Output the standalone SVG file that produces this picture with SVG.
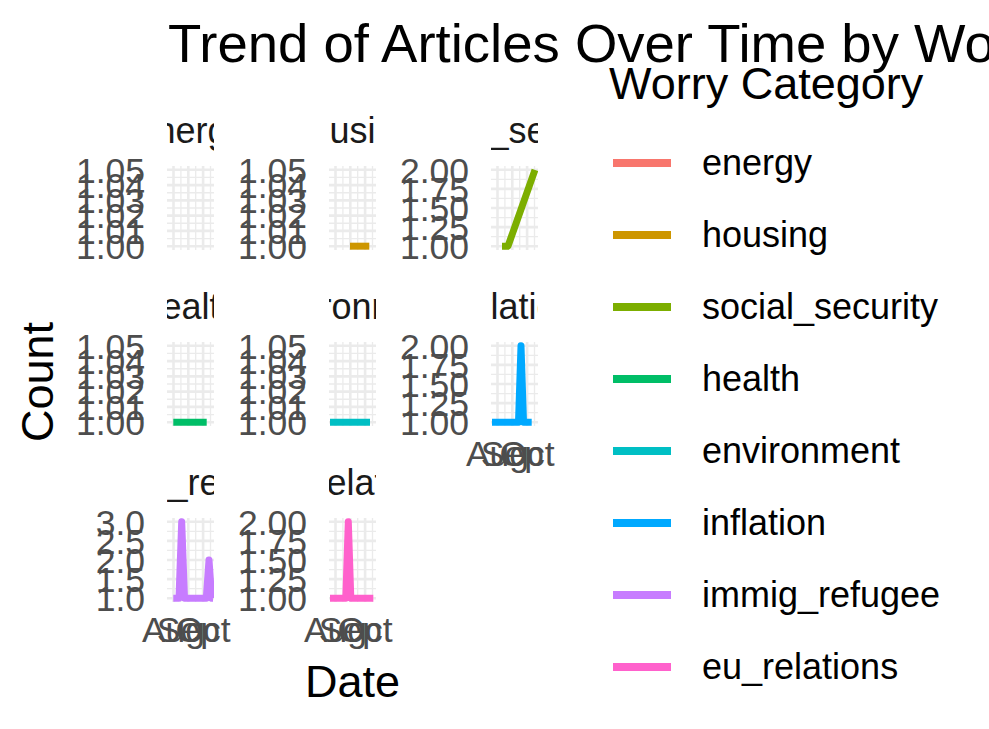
<svg xmlns="http://www.w3.org/2000/svg" xmlns:xlink="http://www.w3.org/1999/xlink" width="989" height="729" viewBox="0 0 989 729">
<style>
text{font-family:"Liberation Sans",Arial,sans-serif}
.title{font-size:54.5px;fill:#000}
.atitle{font-size:45px;fill:#000}
.ltitle{font-size:45px;fill:#000}
.ltext{font-size:36px;fill:#000}
.strip{font-size:36px;fill:#1A1A1A;text-anchor:middle}
.ytick{font-size:35.5px;fill:#4D4D4D;text-anchor:end}
.xtick{font-size:35.5px;fill:#4D4D4D;text-anchor:middle}
.gmaj{stroke:#EBEBEB;stroke-width:2.6;fill:none}
.gmin{stroke:#EBEBEB;stroke-width:1.3;fill:none}
.dl{fill:none;stroke-width:7;stroke-linejoin:round;stroke-linecap:butt}
.key{stroke-width:8;stroke-linecap:butt}
</style>
<defs>
<clipPath id="pc"><rect x="0" y="0" width="47" height="84"/></clipPath>
<clipPath id="sc"><rect x="0" y="-70" width="47" height="70"/></clipPath>
<g id="vgrid">
<path class="gmin" d="M13.9,0V84M28.7,0V84M43.5,0V84"/>
<path class="gmaj" d="M6.5,0V84M21.3,0V84M36.1,0V84"/>
</g>
<g id="grid6">
<path class="gmin" d="M0,72.55H47M0,57.27H47M0,42H47M0,26.73H47M0,11.45H47"/>
<use xlink:href="#vgrid"/>
<path class="gmaj" d="M0,80.18H47M0,64.91H47M0,49.64H47M0,34.36H47M0,19.09H47M0,3.82H47"/>
</g>
<g id="grid5">
<path class="gmin" d="M0,70.63H47M0,51.54H47M0,32.45H47M0,13.36H47"/>
<use xlink:href="#vgrid"/>
<path class="gmaj" d="M0,80.18H47M0,61.09H47M0,42H47M0,22.91H47M0,3.82H47"/>
</g>
<g id="ylab6">
<text class="ytick" x="-22" y="92.9">1.00</text>
<text class="ytick" x="-22" y="77.6">1.01</text>
<text class="ytick" x="-22" y="62.3">1.02</text>
<text class="ytick" x="-22" y="47.1">1.03</text>
<text class="ytick" x="-22" y="31.8">1.04</text>
<text class="ytick" x="-22" y="16.5">1.05</text>
</g>
<g id="ylab5">
<text class="ytick" x="-22" y="92.9">1.00</text>
<text class="ytick" x="-22" y="73.8">1.25</text>
<text class="ytick" x="-22" y="54.7">1.50</text>
<text class="ytick" x="-22" y="35.6">1.75</text>
<text class="ytick" x="-22" y="16.5">2.00</text>
</g>
<g id="xlab">
<text class="xtick" x="6.5" y="124">Aug</text>
<text class="xtick" x="21.3" y="124">Sep</text>
<text class="xtick" x="36.1" y="124">Oct</text>
</g>
</defs>
<rect width="989" height="729" fill="#fff"/>

<text class="title" x="168" y="62">Trend of Articles Over Time by Worry Category</text>

<g id="panel-energy" transform="translate(167,166)">
<use xlink:href="#grid6"/>
<use xlink:href="#ylab6"/>
<g clip-path="url(#sc)"><text class="strip" x="23.5" y="-23">energy</text></g>
</g>
<g id="panel-housing" transform="translate(329,166)">
<use xlink:href="#grid6"/>
<use xlink:href="#ylab6"/>
<g clip-path="url(#sc)"><text class="strip" x="23.5" y="-23">housing</text></g>
<path class="dl" stroke="#CD9600" d="M21,80.18H40.3" clip-path="url(#pc)"/>
</g>
<g id="panel-social_security" transform="translate(491,166)">
<use xlink:href="#grid5"/>
<use xlink:href="#ylab5"/>
<g clip-path="url(#sc)"><text class="strip" x="23.5" y="-23">social_security</text></g>
<path class="dl" stroke="#7CAE00" d="M11,80.18L17,80.18L44,3.82" clip-path="url(#pc)"/>
</g>

<g id="panel-health" transform="translate(167,342)">
<use xlink:href="#grid6"/>
<use xlink:href="#ylab6"/>
<g clip-path="url(#sc)"><text class="strip" x="23.5" y="-23">health</text></g>
<path class="dl" stroke="#00BE67" d="M6.3,80.18H39.7" clip-path="url(#pc)"/>
</g>
<g id="panel-environment" transform="translate(329,342)">
<use xlink:href="#grid6"/>
<use xlink:href="#ylab6"/>
<g clip-path="url(#sc)"><text class="strip" x="23.5" y="-23">environment</text></g>
<path class="dl" stroke="#00BFC4" d="M1,80.18H41" clip-path="url(#pc)"/>
</g>
<g id="panel-inflation" transform="translate(491,342)">
<use xlink:href="#grid5"/>
<use xlink:href="#ylab5"/>
<g clip-path="url(#sc)"><text class="strip" x="23.5" y="-23">inflation</text></g>
<path class="dl" stroke="#00A9FF" d="M1,80.18L27.5,80.18L30,3.82L32.5,80.18L40.7,80.18" clip-path="url(#pc)"/>
<use xlink:href="#xlab"/>
</g>

<g id="panel-immig_refugee" transform="translate(167,518)">
<use xlink:href="#grid5"/>
<text class="ytick" x="-22" y="92.9">1.0</text>
<text class="ytick" x="-22" y="73.8">1.5</text>
<text class="ytick" x="-22" y="54.7">2.0</text>
<text class="ytick" x="-22" y="35.6">2.5</text>
<text class="ytick" x="-22" y="16.5">3.0</text>
<g clip-path="url(#sc)"><text class="strip" x="23.5" y="-23">immig_refugee</text></g>
<path class="dl" stroke="#C77CFF" d="M6.3,80.18L12,80.18L14.7,3.82L17.5,80.18L39.3,80.18L42,42L44.7,80.18L46,80.18" clip-path="url(#pc)"/>
<use xlink:href="#xlab"/>
</g>
<g id="panel-eu_relations" transform="translate(329,518)">
<use xlink:href="#grid5"/>
<use xlink:href="#ylab5"/>
<g clip-path="url(#sc)"><text class="strip" x="23.5" y="-23">eu_relations</text></g>
<path class="dl" stroke="#FF61CC" d="M1,80.18L16.8,80.18L19.3,3.82L21.8,80.18L44.3,80.18" clip-path="url(#pc)"/>
<use xlink:href="#xlab"/>
</g>

<g id="axis-titles">
<text class="atitle" x="352.5" y="697" text-anchor="middle">Date</text>
<text class="atitle" x="53" y="382" text-anchor="middle" transform="rotate(-90 53 382)">Count</text>
</g>

<g id="legend">
<text class="ltitle" x="609" y="99">Worry Category</text>
<line class="key" x1="613" y1="163" x2="671" y2="163" stroke="#F8766D"/>
<text class="ltext" x="702" y="175">energy</text>
<line class="key" x1="613" y1="235" x2="671" y2="235" stroke="#CD9600"/>
<text class="ltext" x="702" y="247">housing</text>
<line class="key" x1="613" y1="307" x2="671" y2="307" stroke="#7CAE00"/>
<text class="ltext" x="702" y="319">social_security</text>
<line class="key" x1="613" y1="379" x2="671" y2="379" stroke="#00BE67"/>
<text class="ltext" x="702" y="391">health</text>
<line class="key" x1="613" y1="451" x2="671" y2="451" stroke="#00BFC4"/>
<text class="ltext" x="702" y="463">environment</text>
<line class="key" x1="613" y1="523" x2="671" y2="523" stroke="#00A9FF"/>
<text class="ltext" x="702" y="535">inflation</text>
<line class="key" x1="613" y1="595" x2="671" y2="595" stroke="#C77CFF"/>
<text class="ltext" x="702" y="607">immig_refugee</text>
<line class="key" x1="613" y1="667" x2="671" y2="667" stroke="#FF61CC"/>
<text class="ltext" x="702" y="679">eu_relations</text>
</g>
</svg>
